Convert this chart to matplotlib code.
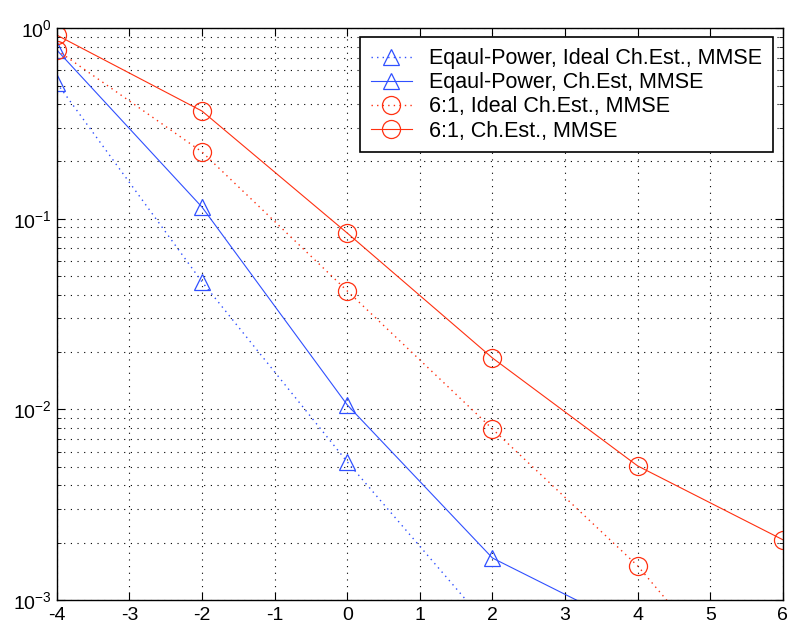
import numpy as np
import matplotlib.pyplot as plt
from matplotlib.ticker import LogLocator, NullFormatter

plt.rcParams["font.family"] = ["Liberation Sans", "DejaVu Sans"]
plt.rcParams["axes.unicode_minus"] = False

# ============================================================
# Data
# ============================================================
snr = [-4, -2, 0, 2, 4, 6]

eq_ideal = [0.515, 0.0466, 0.0053, 0.00069, None, None]
eq_chest = [0.767, 0.115, 0.01055, 0.00166, 0.00069, None]
r61_ideal = [0.767, 0.224, 0.0418, 0.00789, 0.00151, 0.00019]
r61_chest = [0.919, 0.367, 0.0841, 0.0186, 0.00505, 0.00207]

labels = [
    "Eqaul-Power, Ideal Ch.Est., MMSE",
    "Eqaul-Power, Ch.Est, MMSE",
    "6:1, Ideal Ch.Est., MMSE",
    "6:1, Ch.Est., MMSE",
]

BLUE = "#3050ff"
RED = "#ff3010"
DOTS = (0, (1, 5))


def clean(xs, ys):
    pts = [(x, y) for x, y in zip(xs, ys) if y is not None]
    return [p[0] for p in pts], [p[1] for p in pts]


# ============================================================
# Plot
# ============================================================
fig = plt.figure(figsize=(7.9, 6.25), dpi=100)
ax = fig.add_axes([0.072, 0.04, 0.919, 0.915])

x, y = clean(snr, eq_ideal)
ax.semilogy(x, y, linestyle=(0, (1, 3)), color=BLUE, lw=1.0, marker="^", ms=12,
            mfc="none", mec=BLUE, mew=0.9, label=labels[0])
x, y = clean(snr, eq_chest)
ax.semilogy(x, y, linestyle="-", color=BLUE, lw=0.8, marker="^", ms=12,
            mfc="none", mec=BLUE, mew=0.9, label=labels[1])
x, y = clean(snr, r61_ideal)
ax.semilogy(x, y, linestyle=(0, (1, 3)), color=RED, lw=1.0, marker="o", ms=13,
            mfc="none", mec=RED, mew=0.9, label=labels[2])
x, y = clean(snr, r61_chest)
ax.semilogy(x, y, linestyle="-", color=RED, lw=0.8, marker="o", ms=13,
            mfc="none", mec=RED, mew=0.9, label=labels[3])

ax.set_xlim(-4, 6)
ax.set_ylim(1e-3, 1)
ax.set_xticks(range(-4, 7))
ax.yaxis.set_major_locator(LogLocator(base=10, numticks=10))
ax.yaxis.set_minor_locator(LogLocator(base=10, subs=np.arange(2, 10), numticks=10))
ax.yaxis.set_minor_formatter(NullFormatter())

ax.grid(True, which="major", linestyle=DOTS, color="black", lw=0.8)
ax.grid(True, which="minor", axis="y", linestyle=DOTS, color="black", lw=0.8)
ax.tick_params(which="both", direction="in", top=True, right=True, labelsize=14)
ax.tick_params(axis="x", pad=5)
ax.tick_params(which="major", length=6)
ax.tick_params(which="minor", length=3)
for s in ax.spines.values():
    s.set_linewidth(1.0)

leg = ax.legend(loc="upper right", bbox_to_anchor=(0.986, 0.984), borderaxespad=0,
                fontsize=15.5, fancybox=False, framealpha=1, edgecolor="black",
                borderpad=0.5, labelspacing=0.15, handlelength=1.9,
                handletextpad=0.8)
leg.get_frame().set_linewidth(1.2)

fig.savefig("out.png", dpi=100)
